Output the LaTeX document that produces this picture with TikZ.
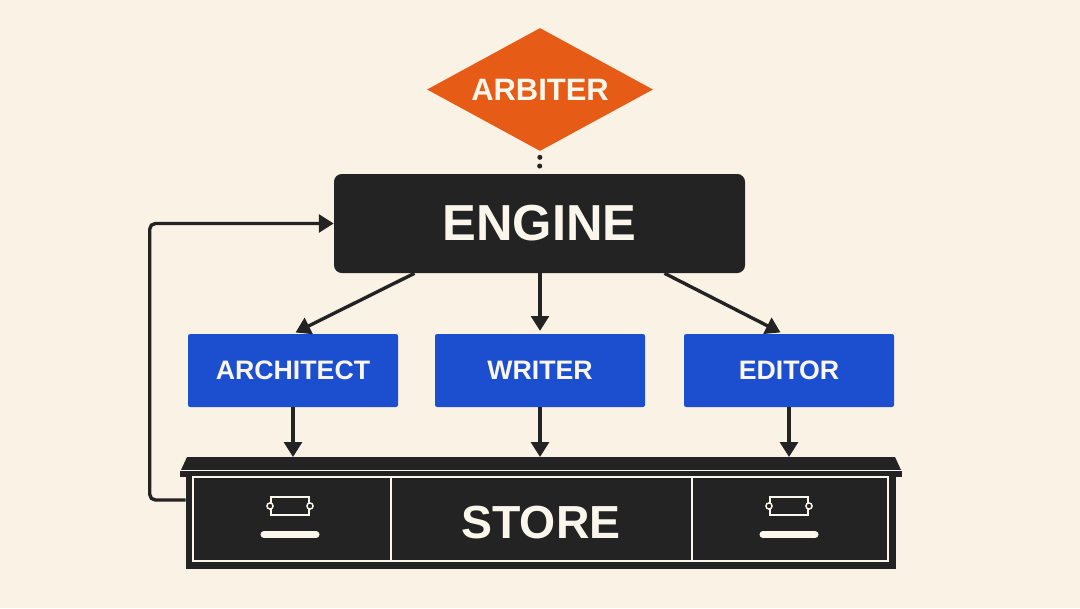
\documentclass[tikz,border=0pt]{standalone}
\usepackage{fontspec}
\setmainfont{Liberation Sans}
\usetikzlibrary{shapes.geometric,arrows.meta}

\definecolor{paper}{HTML}{F9F2E5}
\definecolor{inkdark}{HTML}{232323}
\definecolor{arbiterorange}{HTML}{E65C17}
\definecolor{agentblue}{HTML}{1B4FCF}
\definecolor{labelwhite}{HTML}{FBF6EC}

\begin{document}
\begin{tikzpicture}[
    arr/.style={draw=inkdark, line width=2.4pt, -{Triangle[length=10.5pt,width=12.5pt]}},
    agent/.style={rectangle, rounded corners=1.5pt, fill=agentblue, text=labelwhite,
        font=\bfseries\fontsize{19}{19}\selectfont, minimum width=5.25cm, minimum height=1.825cm}
]
    % 背景
    \fill[paper] (0,0) rectangle (27,15.2);

    % 仲裁者
    \node[diamond, fill=arbiterorange, text=labelwhite, inner sep=0pt, shape aspect=1.84,
        minimum width=5.65cm, minimum height=3.075cm,
        font=\bfseries\fontsize{22}{22}\selectfont] (arbiter) at (13.5,12.9625) {ARBITER};

    % 引擎
    \node[rectangle, rounded corners=5.5pt, fill=inkdark, text=labelwhite,
        minimum width=10.275cm, minimum height=2.475cm,
        font=\bfseries\fontsize{36}{36}\selectfont] (engine) at (13.4875,9.6125) {ENGINE};
    \draw[inkdark, line width=3.6pt, line cap=round, dash pattern=on 0pt off 6.2pt,
        shorten <=4.3pt] (arbiter.south) -- (engine.north);

    % 三个代理
    \node[agent] (arch) at (7.325,5.9375) {ARCHITECT};
    \node[agent] (writer) at (13.5,5.9375) {WRITER};
    \node[agent] (editor) at (19.725,5.9375) {EDITOR};

    % 引擎到代理的箭头
    \draw[arr, shorten >=2pt] ([xshift=-3.125cm]engine.south) -- (arch.north);
    \draw[arr, shorten >=2pt] (engine.south -| writer.north) -- (writer.north);
    \draw[arr, shorten >=2pt] ([xshift=3.125cm]engine.south) -- ([xshift=-0.15cm]editor.north);

    % 存储柜
    \node[rectangle, fill=inkdark, inner sep=0pt, minimum width=17.75cm, minimum height=2.325cm,
        text=labelwhite, font=\bfseries\fontsize{33}{33}\selectfont] (store) at (13.525,2.1375) {STORE};
    \coordinate (lidtop) at (13.5,3.775);
    \fill[inkdark] (4.675,3.775) -- (22.375,3.775) -- (22.525,3.45) -- (4.525,3.45) -- cycle;
    \fill[inkdark] (4.5,3.45) rectangle (22.55,3.28);
    \draw[labelwhite, line width=0.9pt] (4.5,3.44) -- (22.55,3.44);
    \draw[labelwhite, line width=0.9pt] (4.825,3.275) rectangle (22.2,1.175);
    \draw[labelwhite, line width=0.9pt] (9.775,3.275) -- (9.775,1.175);
    \draw[labelwhite, line width=0.9pt] (17.3,3.275) -- (17.3,1.175);

    % 抽屉把手
    \foreach \hx in {7.25,19.725} {
        \draw[labelwhite, line width=2pt] (\hx-0.475,2.325) rectangle (\hx+0.475,2.775);
        \filldraw[fill=inkdark, draw=labelwhite, line width=1pt] (\hx-0.5,2.55) circle (2.2pt);
        \filldraw[fill=inkdark, draw=labelwhite, line width=1pt] (\hx+0.5,2.55) circle (2.2pt);
        \draw[labelwhite, line width=5pt, line cap=round] (\hx-0.65,1.8375) -- (\hx+0.65,1.8375);
    }

    % 代理到存储的箭头
    \draw[arr] (arch.south) -- (arch.south |- lidtop);
    \draw[arr] (writer.south) -- (writer.south |- lidtop);
    \draw[arr] (editor.south) -- (editor.south |- lidtop);

    % 反馈回路
    \draw[arr, rounded corners=4pt] ([yshift=0.5625cm]store.west) -- ++(-0.9,0) |- (engine.west);
\end{tikzpicture}
\end{document}
